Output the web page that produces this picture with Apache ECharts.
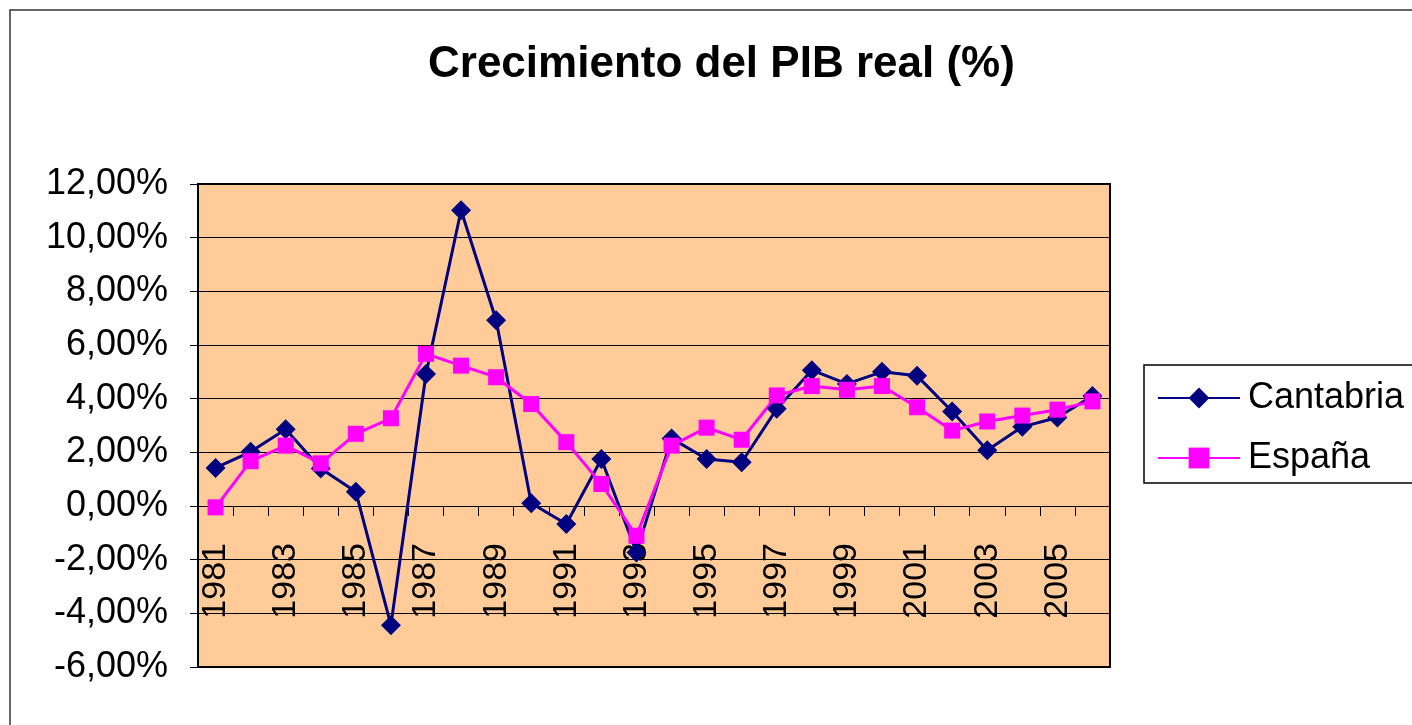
<!DOCTYPE html>
<html>
<head>
<meta charset="utf-8">
<title>Crecimiento del PIB real (%)</title>
<script src="https://cdn.jsdelivr.net/npm/echarts@6/dist/echarts.min.js"></script>
<style>
  html, body { margin: 0; padding: 0; background: #fff; }
  #main { width: 1412px; height: 725px; }
</style>
</head>
<body>
<div id="main"></div>
<script>
// 年份 / 数据 (%)
const years = [
  "1981", "1982", "1983", "1984", "1985", "1986", "1987", "1988", "1989", "1990",
  "1991", "1992", "1993", "1994", "1995", "1996", "1997", "1998", "1999", "2000",
  "2001", "2002", "2003", "2004", "2005", "2006",
];
const cantabria = [
  1.42, 2.02, 2.86, 1.4, 0.53, -4.44, 4.92, 11.02, 6.92, 0.1,
  -0.67, 1.75, -1.73, 2.52, 1.75, 1.63, 3.62, 5.06, 4.55, 5.0,
  4.85, 3.52, 2.08, 2.95, 3.3, 4.1,
];
const espana = [
  -0.05, 1.67, 2.25, 1.59, 2.69, 3.27, 5.67, 5.23, 4.8, 3.8,
  2.38, 0.82, -1.11, 2.25, 2.92, 2.47, 4.12, 4.47, 4.33, 4.47,
  3.68, 2.81, 3.15, 3.37, 3.59, 3.9,
];
const yMin = -6;
const yMax = 12;
const yStep = 2;

const font = "'Liberation Sans', Arial, sans-serif";

const chart = echarts.init(document.getElementById("main"));

const options = {
  backgroundColor: "#fff",
  animation: false,
  textStyle: { fontFamily: font, color: "#000" },
  title: {
    text: "Crecimiento del PIB real (%)",
    left: 428,
    top: 43,
    padding: 0,
    textStyle: {
      fontFamily: font,
      fontSize: 44,
      fontWeight: "bold",
      color: "#000",
    },
  },
  // 外框
  graphic: [
    {
      type: "rect",
      shape: { x: 10, y: 10, width: 1420, height: 730 },
      style: { fill: "none", stroke: "#333", lineWidth: 1.5 },
      silent: true,
    },
    {
      type: "rect",
      shape: { x: 1144, y: 365, width: 300, height: 118 },
      style: { fill: "#fff", stroke: "#000", lineWidth: 1.5 },
      silent: true,
      z: -1,
    },
  ],
  legend: {
    orient: "vertical",
    left: 1157,
    top: 380,
    padding: 0,
    itemWidth: 82,
    itemHeight: 26,
    itemGap: 24,
    data: ["Cantabria", "España"],
    textStyle: {
      fontFamily: font,
      fontSize: 36,
      lineHeight: 36,
      color: "#000",
      padding: [0, 0, 0, 3],
    },
  },
  grid: {
    left: 198,
    top: 184,
    width: 912,
    height: 483,
    outerBoundsMode: "none",
    containLabel: false,
    show: true,
    backgroundColor: "#FFCC99",
    borderColor: "#000",
    borderWidth: 2,
  },
  xAxis: {
    type: "category",
    data: years,
    boundaryGap: true,
    axisLine: {
      onZero: true,
      lineStyle: { color: "#000", width: 1 },
    },
    axisTick: {
      show: true,
      interval: 0,
      length: 10,
      lineStyle: { color: "#000", width: 1 },
    },
    axisLabel: {
      interval: 1,
      rotate: 90,
      margin: -124,
      fontFamily: font,
      fontSize: 34,
      color: "#000",
    },
    splitLine: { show: false },
  },
  yAxis: {
    type: "value",
    min: yMin,
    max: yMax,
    interval: yStep,
    axisLine: { show: true, lineStyle: { color: "#000", width: 1 } },
    axisTick: { show: true, length: 8, lineStyle: { color: "#000" } },
    axisLabel: {
      margin: 30,
      fontFamily: font,
      fontSize: 36,
      color: "#000",
      formatter: (v) => v.toFixed(2).replace(".", ",") + "%",
    },
    splitLine: { show: true, lineStyle: { color: "#000", width: 1 } },
  },
  series: [
    {
      name: "Cantabria",
      type: "line",
      data: cantabria,
      symbol: "diamond",
      symbolSize: 20,
      showAllSymbol: true,
      itemStyle: { color: "#000080" },
      lineStyle: { color: "#000080", width: 3 },
    },
    {
      name: "España",
      type: "line",
      data: espana,
      symbol: "rect",
      symbolSize: 16,
      showAllSymbol: true,
      itemStyle: { color: "#FF00FF" },
      lineStyle: { color: "#FF00FF", width: 3 },
    },
  ],
};

chart.setOption(options);

window.addEventListener("resize", () => {
  chart.resize();
});
</script>
</body>
</html>
